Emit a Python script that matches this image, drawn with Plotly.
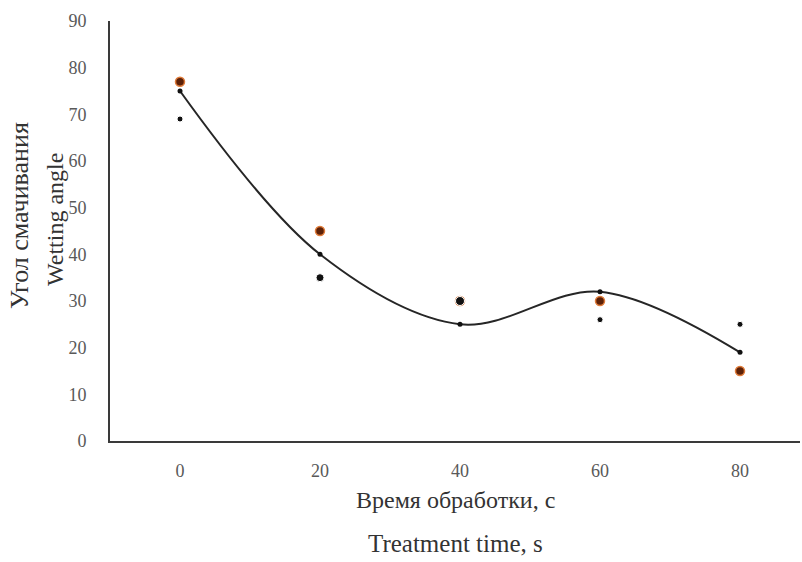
import plotly.graph_objects as go

# Data
time_s = [0, 20, 40, 60, 80]
fit_points = [75, 40, 25, 32, 19]        # black points on the smoothed curve
series_orange = [77, 45, 30, 30, 15]     # orange measurements
series_black = [69, 35, 30, 26, 25]      # other black measurements

x_ticks = [0, 20, 40, 60, 80]
y_ticks = [0, 10, 20, 30, 40, 50, 60, 70, 80, 90]

SERIF = "Liberation Serif, Times New Roman, serif"

fig = go.Figure()

fig.add_trace(go.Scatter(
    x=time_s, y=series_orange, mode="markers",
    marker=dict(size=9, color="#5c2108", opacity=1, line=dict(color="#e07b39", width=1.5)),
    showlegend=False, hoverinfo="skip"))

fig.add_trace(go.Scatter(
    x=time_s, y=series_black, mode="markers",
    marker=dict(size=[6, 8, 9, 6, 6], color="#111111", opacity=1),
    showlegend=False))

fig.add_trace(go.Scatter(
    x=time_s, y=fit_points, mode="lines+markers",
    line=dict(shape="spline", smoothing=1.0, color="#262626", width=2),
    marker=dict(size=5, color="#111111", opacity=1),
    showlegend=False))

plot_w = 802 - 110 - 2
plot_h = 562 - 21 - 121

def px_x(px):
    return (px - 110) / plot_w

def px_y(py):
    return (441 - py) / plot_h

fig.update_layout(
    width=802, height=562,
    margin=dict(l=110, r=2, t=21, b=121),
    paper_bgcolor="white", plot_bgcolor="white",
    font=dict(family=SERIF, color="#404040"),
    xaxis=dict(
        range=[-10, 88.57], tickvals=x_ticks, ticktext=[str(v) for v in x_ticks],
        showgrid=False, zeroline=False, showline=True, linecolor="#3a3a3a", linewidth=2,
        ticks="", tickfont=dict(family=SERIF, size=18, color="#595959"),
        ticklabelstandoff=12,
    ),
    yaxis=dict(
        range=[0, 90], tickvals=y_ticks, ticktext=[str(v) for v in y_ticks],
        showgrid=False, zeroline=False, showline=True, linecolor="#3a3a3a", linewidth=2,
        ticks="", tickfont=dict(family=SERIF, size=18, color="#595959"),
        ticklabelstandoff=18,
    ),
    annotations=[
        dict(text="Время обработки, с", x=0.5, xref="paper", y=px_y(500), yref="paper",
             xanchor="center", yanchor="middle",
             showarrow=False, font=dict(family=SERIF, size=24, color="#333333")),
        dict(text="Treatment time, s", x=0.5, xref="paper", y=px_y(543), yref="paper",
             xanchor="center", yanchor="middle",
             showarrow=False, font=dict(family=SERIF, size=25, color="#333333")),
        dict(text="Угол смачивания", x=px_x(19), y=px_y(216), xref="paper", yref="paper",
             xanchor="center", yanchor="middle",
             textangle=-90, showarrow=False, font=dict(family=SERIF, size=26, color="#333333")),
        dict(text="Wetting angle", x=px_x(55), y=px_y(220), xref="paper", yref="paper",
             xanchor="center", yanchor="middle",
             textangle=-90, showarrow=False, font=dict(family=SERIF, size=24, color="#333333")),
    ],
)

fig.write_html("out.html")
